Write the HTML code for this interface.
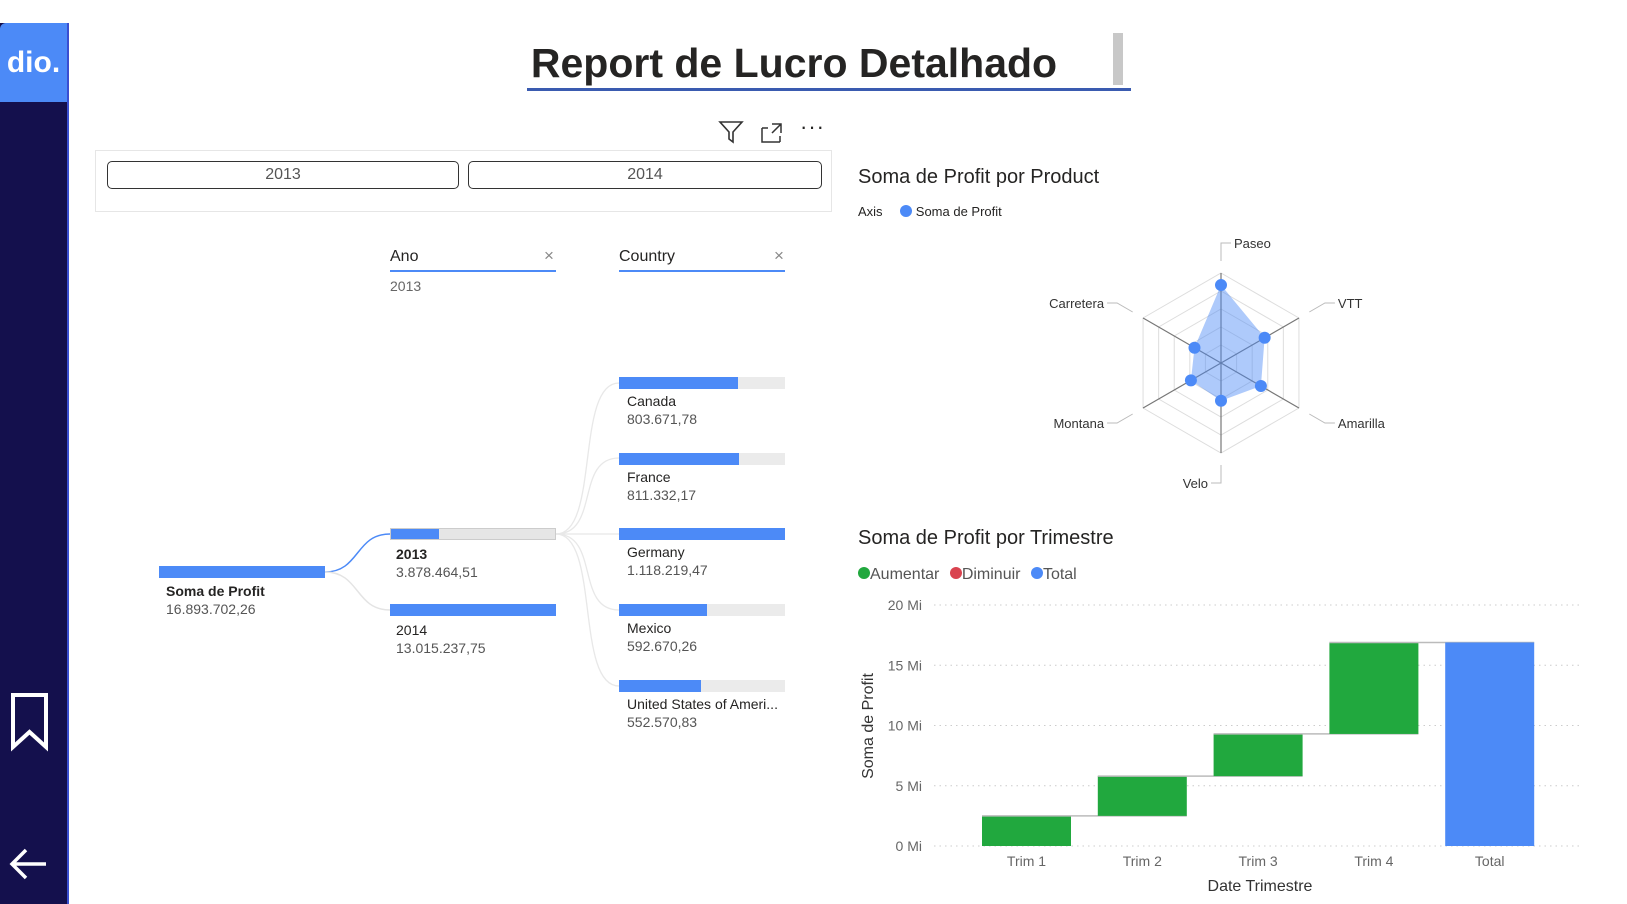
<!DOCTYPE html>
<html><head><meta charset="utf-8">
<style>
body{margin:0;width:1627px;height:904px;background:#fff;font-family:"Liberation Sans",sans-serif;position:relative;overflow:hidden}
.abs{position:absolute}
.t{font-family:"Liberation Sans",sans-serif;color:#252423}
.lg{display:inline-block;width:12px;height:12px;border-radius:6px;margin-left:6px}
</style></head><body>
<div class="abs" style="left:0;top:23px;width:67px;height:881px;background:#14104d;border-right:2px solid #3a4fd0"></div>
<div class="abs" style="left:0;top:23px;width:67px;height:79px;background:#4c8af7;border-radius:6px 0 0 0;color:#fff;font:bold 30px 'Liberation Sans',sans-serif;line-height:79px;text-align:center">dio.</div>
<svg class="abs" style="left:10px;top:692px" width="40" height="60"><path d="M3 3H36V55L19.5 40L3 55Z" fill="none" stroke="#fff" stroke-width="4"/></svg>
<svg class="abs" style="left:6px;top:844px" width="44" height="40"><path d="M40 20H6M20 6L6 20L20 34" fill="none" stroke="#fff" stroke-width="3.5"/></svg>

<div class="abs t" style="left:529px;top:40px;width:530px;text-align:center;font-weight:bold;font-size:41px">Report de Lucro Detalhado</div>
<div class="abs" style="left:527px;top:88px;width:604px;height:3px;background:#3a5bb0"></div>
<div class="abs" style="left:1113px;top:33px;width:10px;height:52px;background:#c8c8c8"></div>

<svg class="abs" style="left:718px;top:120px" width="26" height="24"><path d="M2 2H24L15 12V22L11 19V12Z" fill="none" stroke="#333" stroke-width="1.6"/></svg>
<svg class="abs" style="left:760px;top:122px" width="24" height="22"><path d="M2 6V20H20M2 6H8M20 14V20M12 2H21V11M21 2L12 11" fill="none" stroke="#333" stroke-width="1.5"/></svg>
<div class="abs t" style="left:800px;top:114px;font-size:22px;letter-spacing:1px">···</div>

<div class="abs" style="left:95px;top:150px;width:735px;height:60px;border:1px solid #e6e6e6"></div>
<div class="abs t" style="left:107px;top:161px;width:350px;height:26px;border:1.5px solid #333;border-radius:5px;text-align:center;line-height:26px;font-size:16px;color:#555">2013</div>
<div class="abs t" style="left:468px;top:161px;width:352px;height:26px;border:1.5px solid #333;border-radius:5px;text-align:center;line-height:26px;font-size:16px;color:#555">2014</div>

<div class="abs t" style="left:390px;top:248px;font-size:16px">Ano</div>
<div class="abs t" style="left:544px;top:246px;font-size:17px;color:#888">×</div>
<div class="abs" style="left:390px;top:270px;width:166px;height:2px;background:#4c8af7"></div>
<div class="abs t" style="left:390px;top:278px;font-size:14px;color:#666">2013</div>
<div class="abs t" style="left:619px;top:248px;font-size:16px">Country</div>
<div class="abs t" style="left:774px;top:246px;font-size:17px;color:#888">×</div>
<div class="abs" style="left:619px;top:270px;width:166px;height:2px;background:#4c8af7"></div>

<svg class="abs" style="left:0;top:0" width="1627" height="904">
<path d="M325 572C360 572 355 534 390 534" stroke="#4c8af7" stroke-width="1.5" fill="none"/>
<path d="M325 572C360 572 355 610 390 610" stroke="#e4e4e4" stroke-width="1.5" fill="none"/>
<g stroke="#e8e8e8" stroke-width="1.3" fill="none">
<path d="M556 534C600 534 575 383 619 383"/><path d="M556 534C600 534 575 458 619 458"/><path d="M556 534L619 534"/><path d="M556 534C600 534 575 610 619 610"/><path d="M556 534C600 534 575 686 619 686"/></g>
</svg>
<div class="abs" style="left:159px;top:566px;width:166px;height:12px;background:#4c8af7"></div>
<div class="abs t" style="left:166px;top:582px;font-size:14px;font-weight:bold;line-height:18px">Soma de Profit<br><span style="font-weight:normal;color:#555">16.893.702,26</span></div>
<div class="abs" style="left:390px;top:528px;width:164px;height:10px;background:#e6e6e6;border:1px solid #ccc"><div style="width:48px;height:10px;background:#4c8af7"></div></div>
<div class="abs t" style="left:396px;top:545px;font-size:14px;font-weight:bold;line-height:18px">2013<br><span style="font-weight:normal;color:#555">3.878.464,51</span></div>
<div class="abs" style="left:390px;top:604px;width:166px;height:12px;background:#4c8af7"></div>
<div class="abs t" style="left:396px;top:621px;font-size:14px;line-height:18px">2014<br><span style="color:#555">13.015.237,75</span></div>
<div id="countries"></div>

<div class="abs t" style="left:858px;top:166px;font-size:20px">Soma de Profit por Product</div>
<div class="abs t" style="left:858px;top:204px;font-size:13px">Axis <span style="display:inline-block;width:12px;height:12px;border-radius:6px;background:#4c8af7;margin-left:14px;vertical-align:-1px"></span> Soma de Profit</div>
<svg class="abs" id="radar" style="left:0;top:0" width="1627" height="904"></svg>

<div class="abs t" style="left:858px;top:527px;font-size:20px">Soma de Profit por Trimestre</div>
<div class="abs t" style="left:852px;top:566px;font-size:16px;color:#555">
<span class="lg" style="background:#21a83e"></span>Aumentar
<span class="lg" style="background:#d9434f"></span>Diminuir
<span class="lg" style="background:#4c8af7"></span>Total</div>
<svg class="abs" id="wf" style="left:0;top:0" width="1627" height="904"></svg>

<script>
const countries=["Canada","France","Germany","Mexico","United States of Ameri..."];
const countryValues=[803671.78,811332.17,1118219.47,592670.26,552570.83];
const countryLabels=["803.671,78","811.332,17","1.118.219,47","592.670,26","552.570,83"];

const products=["Paseo","VTT","Amarilla","Velo","Montana","Carretera"];
const productProfit=[4.33,2.8,2.56,2.1,1.93,1.7];
const radarMax=5;

const quarters=["Trim 1","Trim 2","Trim 3","Trim 4"];
const quarterProfit=[2.5,3.3,3.5,7.59];
const yTicks=[0,5,10,15,20];
const yTickLabels=["0 Mi","5 Mi","10 Mi","15 Mi","20 Mi"];

const NS="http://www.w3.org/2000/svg";
function mk(parent,tag,attrs){const e=document.createElementNS(NS,tag);for(const k in attrs)e.setAttribute(k,attrs[k]);parent.appendChild(e);return e;}

const cWrap=document.getElementById('countries');
const cMax=Math.max(...countryValues);
countries.forEach((c,i)=>{
  const y=377+i*75.7;
  const bar=document.createElement('div');
  bar.className='abs';
  
  
  bar.style.cssText=`left:619px;top:${y}px;width:166px;height:12px;background:#ebebeb`;
  const f=document.createElement('div');
  f.style.cssText=`width:${166*countryValues[i]/cMax}px;height:12px;background:#4c8af7`;
  bar.appendChild(f);cWrap.appendChild(bar);
  const l=document.createElement('div');
  l.className='abs t';
  
  
  l.style.cssText=`left:627px;top:${y+15}px;font-size:14px;line-height:18px`;
  l.innerHTML=c+'<br><span style="color:#555">'+countryLabels[i]+'</span>';
  cWrap.appendChild(l);
});

const R=document.getElementById('radar');
const cx=1221,cy=363,rMax=90;
const ang=i=>-Math.PI/2+i*Math.PI/3;
const rs=v=>v/radarMax*rMax;
for(let k=1;k<=5;k++){
  const pts=products.map((p,i)=>[cx+rMax*k/5*Math.cos(ang(i)),cy+rMax*k/5*Math.sin(ang(i))].join(',')).join(' ');
  const g=mk(R,'polygon',{points:pts,fill:'none',stroke:'#ddd','stroke-width':1});
  
  
}
const lblAnchor=[["start",1],["start",1],["start",1],["end",-1],["end",-1],["end",-1]];
products.forEach((p,i)=>{
  const a=ang(i),c=Math.cos(a),s=Math.sin(a);
  mk(R,'line',{x1:cx,y1:cy,x2:cx+rMax*c,y2:cy+rMax*s,stroke:'#777','stroke-width':1.2});
  const x1=cx+102*c,y1=cy+102*s,x2=cx+120*c,y2=cy+120*s;
  const dir=lblAnchor[i][1];
  mk(R,'polyline',{points:`${x1},${y1} ${x2},${y2} ${x2+dir*10},${y2}`,fill:'none',stroke:'#bbb','stroke-width':1});
  const t=mk(R,'text',{x:x2+dir*13,y:y2+5,'text-anchor':lblAnchor[i][0],'font-size':13,fill:'#333','font-family':'Liberation Sans, sans-serif'});
  t.textContent=p;
  
  
});
const dpts=productProfit.map((v,i)=>[cx+rs(v)*Math.cos(ang(i)),cy+rs(v)*Math.sin(ang(i))]);
const area=mk(R,'polygon',{points:dpts.map(p=>p.join(',')).join(' '),fill:'rgba(76,138,247,0.45)',stroke:'none'});


dpts.forEach(p=>{
  const c=mk(R,'circle',{cx:p[0],cy:p[1],r:6,fill:'#4c8af7'});
  
  
});

const W=document.getElementById('wf');
const y0=846,pxPer=(846-605)/20;
const ys=v=>y0-v*pxPer;
yTicks.forEach((v,i)=>{
  mk(W,'line',{x1:934,x2:1582,y1:ys(v),y2:ys(v),stroke:'#ccc','stroke-dasharray':'1.5 4'});
  const t=mk(W,'text',{x:922,y:ys(v)+5,'text-anchor':'end','font-size':14,fill:'#666','font-family':'Liberation Sans, sans-serif'});
  t.textContent=yTickLabels[i];
  
  
});
const cats=quarters.concat(["Total"]);
let cum=0;const bw=89,step=115.8,x0=982;
cats.forEach((c,i)=>{
  const x=x0+i*step;
  let top,bot,col;
  if(i<quarters.length){bot=cum;cum+=quarterProfit[i];top=cum;col='#21a83e';}
  else{bot=0;top=cum;col='#4c8af7';}
  const r=mk(W,'rect',{x:x,y:ys(top),width:bw,height:ys(bot)-ys(top),fill:col});
  
  
  if(i<quarters.length){mk(W,'line',{x1:x,x2:x+step+bw,y1:ys(top),y2:ys(top),stroke:'#bbb','stroke-width':1.5});}
  const t=mk(W,'text',{x:x+bw/2,y:866,'text-anchor':'middle','font-size':14,fill:'#666','font-family':'Liberation Sans, sans-serif'});
  t.textContent=c;
  
  
});
const xt=mk(W,'text',{x:1260,y:891,'text-anchor':'middle','font-size':16,fill:'#333','font-family':'Liberation Sans, sans-serif'});
xt.textContent='Date Trimestre';


const yt=mk(W,'text',{x:0,y:0,transform:'translate(873,726) rotate(-90)','text-anchor':'middle','font-size':16,fill:'#333','font-family':'Liberation Sans, sans-serif'});
yt.textContent='Soma de Profit';


</script>
</body></html>
